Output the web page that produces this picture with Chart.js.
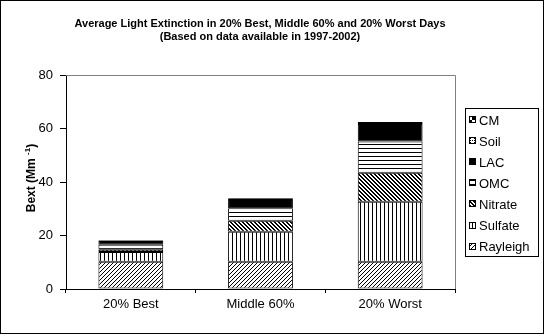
<!DOCTYPE html>
<html>
<head>
<meta charset="utf-8">
<title>Average Light Extinction</title>
<script src="https://cdn.jsdelivr.net/npm/chart.js@4.4.1/dist/chart.umd.min.js"></script>
<style>
  html, body { margin: 0; padding: 0; background: #fff; }
</style>
</head>
<body>
<canvas id="bextChart" width="546" height="336"></canvas>
<script>
// average extinction (Mm-1) by component, per group of days
const categories = ["20% Best", "Middle 60%", "20% Worst"];
const rayleigh = [10.2, 10.2, 10.2];
const sulfate  = [3.6, 11.2, 22.4];
const nitrate  = [0.9, 4.1, 10.9];
const omc      = [1.8, 4.7, 11.6];
const lac      = [1.4, 3.1, 6.6];
const soil     = [0.2, 0.4, 0.4];
const cm       = [0.2, 0.3, 0.3];
const yTicks   = [0, 20, 40, 60, 80];

const titleLines = [
  "Average Light Extinction in 20% Best, Middle 60% and 20% Worst Days",
  "(Based on data available in 1997-2002)"
];

const canvas = document.getElementById("bextChart");
const ctx = canvas.getContext("2d");

// small black-on-white fill patterns
function pattern(size, paint, bg) {
  const c = document.createElement("canvas");
  c.width = size;
  c.height = size;
  const g = c.getContext("2d");
  g.fillStyle = bg || "#fff";
  g.fillRect(0, 0, size, size);
  g.fillStyle = bg === "#000" ? "#fff" : "#000";
  paint(g, size);
  return ctx.createPattern(c, "repeat");
}

const fills = {
  rayleigh: pattern(4, (g, n) => { for (let i = 0; i < n; i++) g.fillRect(i, n - 1 - i, 1, 1); }),
  sulfate: pattern(4, (g, n) => g.fillRect(0, 0, 1, n)),
  nitrate: pattern(4, (g, n) => {
    for (let i = 0; i < n; i++) { g.fillRect(i, i, 1, 1); g.fillRect((i + 1) % n, i, 1, 1); }
  }),
  omc: pattern(4, (g, n) => g.fillRect(0, 0, n, 1)),
  lac: "#000",
  soil: pattern(4, (g) => { g.fillRect(0, 0, 1, 1); g.fillRect(2, 2, 1, 1); g.fillRect(2, 0, 1, 1); }),
  cm: pattern(8, (g) => { g.fillRect(0, 0, 4, 4); g.fillRect(4, 4, 4, 4); }, "#000")
};

function series(label, data, fill) {
  return {
    label: label,
    data: data,
    backgroundColor: fill,
    borderColor: "#000",
    borderWidth: 1,
    borderSkipped: false,
    barPercentage: 1.0,
    categoryPercentage: 0.5
  };
}

// title, y title, legend box and frames
const decor = {
  id: "decor",
  beforeDatasetsDraw(chart) {
    const a = chart.chartArea;
    const c = chart.ctx;
    c.save();
    c.strokeStyle = "#808080";
    c.lineWidth = 1;
    c.beginPath();
    c.moveTo(a.left, a.top + 0.5);
    c.lineTo(a.right + 0.5, a.top + 0.5);
    c.lineTo(a.right + 0.5, a.bottom);
    c.stroke();
    c.restore();
  },
  afterDraw(chart) {
    const c = chart.ctx;
    const a = chart.chartArea;
    c.save();

    // outer border
    c.strokeStyle = "#000";
    c.lineWidth = 1;
    c.strokeRect(0.5, 0.5, 543, 333);

    // chart title
    c.fillStyle = "#000";
    c.font = "bold 11px 'Liberation Sans', Arial, sans-serif";
    c.textAlign = "center";
    c.textBaseline = "alphabetic";
    c.fillText(titleLines[0], 260, 27);
    c.fillText(titleLines[1], 260, 40);

    // y axis title with superscript
    c.save();
    c.translate(35, (a.top + a.bottom) / 2 - 4);
    c.rotate(-Math.PI / 2);
    const main = "Bext (Mm ";
    const sup = "-1";
    const close = ")";
    c.font = "bold 12px 'Liberation Sans', Arial, sans-serif";
    const w1 = c.measureText(main).width;
    const w3 = c.measureText(close).width;
    c.font = "bold 8px 'Liberation Sans', Arial, sans-serif";
    const w2 = c.measureText(sup).width;
    let x = -(w1 + w2 + w3) / 2;
    c.textAlign = "left";
    c.font = "bold 12px 'Liberation Sans', Arial, sans-serif";
    c.fillText(main, x, 0);
    x += w1;
    c.font = "bold 8px 'Liberation Sans', Arial, sans-serif";
    c.fillText(sup, x, -5);
    x += w2;
    c.font = "bold 12px 'Liberation Sans', Arial, sans-serif";
    c.fillText(close, x, 0);
    c.restore();

    // legend, top entry is the last dataset
    const lx = 465, ly = 108, lw = 73, lh = 148;
    c.strokeStyle = "#000";
    c.strokeRect(lx + 0.5, ly + 0.5, lw, lh);
    c.font = "13px 'Liberation Sans', Arial, sans-serif";
    c.textAlign = "left";
    c.textBaseline = "middle";
    const items = chart.data.datasets.slice().reverse();
    items.forEach((ds, i) => {
      const cy = ly + 12 + i * 21.1;
      c.fillStyle = ds.backgroundColor;
      c.fillRect(lx + 4, Math.round(cy - 4), 7, 7);
      c.strokeStyle = "#000";
      c.strokeRect(lx + 4.5, Math.round(cy - 4) + 0.5, 6, 6);
      c.fillStyle = "#000";
      c.fillText(ds.label, lx + 14, cy + 1);
    });
    c.restore();
  }
};

new Chart(ctx, {
  type: "bar",
  data: {
    labels: categories,
    datasets: [
      series("Rayleigh", rayleigh, fills.rayleigh),
      series("Sulfate", sulfate, fills.sulfate),
      series("Nitrate", nitrate, fills.nitrate),
      series("OMC", omc, fills.omc),
      series("LAC", lac, fills.lac),
      series("Soil", soil, fills.soil),
      series("CM", cm, fills.cm)
    ]
  },
  options: {
    responsive: false,
    animation: false,
    devicePixelRatio: 1,
    layout: { padding: { left: 0, right: 91, top: 75, bottom: 17 } },
    plugins: {
      legend: { display: false },
      title: { display: false },
      tooltip: { enabled: false }
    },
    scales: {
      x: {
        stacked: true,
        grid: { display: true, drawOnChartArea: false, tickLength: 4, color: "#000", offset: true },
        border: { display: true, color: "#000", width: 1 },
        ticks: {
          color: "#000",
          padding: 4,
          font: { family: "'Liberation Sans', Arial, sans-serif", size: 13 }
        },
        afterFit(s) { s.height = 30; }
      },
      y: {
        stacked: true,
        min: yTicks[0],
        max: yTicks[yTicks.length - 1],
        grid: { display: true, drawOnChartArea: false, tickLength: 6, color: "#000" },
        border: { display: true, color: "#000", width: 1 },
        ticks: {
          stepSize: yTicks[1] - yTicks[0],
          color: "#000",
          padding: 7,
          font: { family: "'Liberation Sans', Arial, sans-serif", size: 13 }
        },
        afterFit(s) { s.width = 66; }
      }
    }
  },
  plugins: [decor]
});
</script>
</body>
</html>
